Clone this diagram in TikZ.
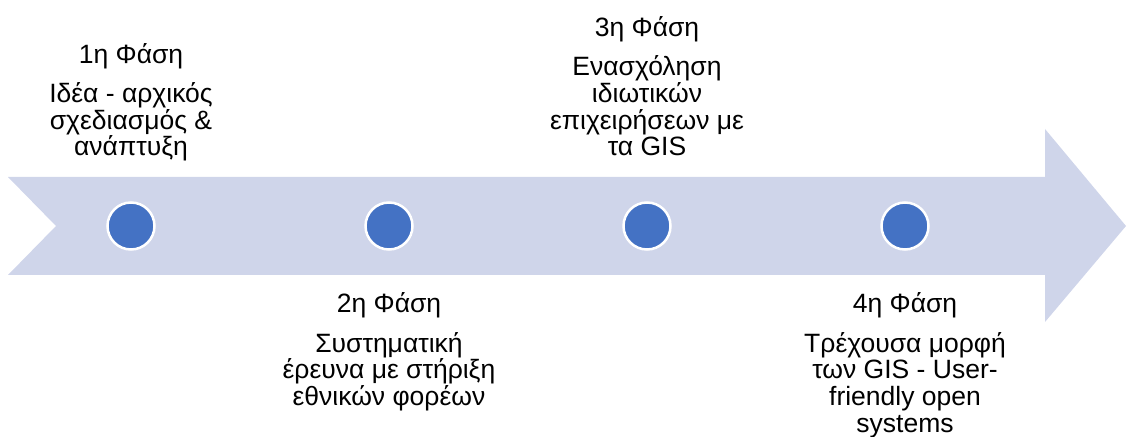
\documentclass[tikz,border=0pt]{standalone}
\usepackage{fontspec}
\setmainfont{Liberation Sans}
\definecolor{arrowfill}{HTML}{CFD5EA}
\definecolor{dotblue}{HTML}{4472C4}
\tikzset{
  phase/.style={circle, fill=dotblue, draw=white, line width=2.5pt, minimum size=47pt, inner sep=0pt},
  title/.style={anchor=base, inner sep=0pt, font=\fontsize{26.5}{26.7}\selectfont},
  body/.style={anchor=base, inner sep=0pt, align=center, font=\fontsize{26.5}{26.7}\selectfont}
}
\begin{document}
\begin{tikzpicture}[x=1pt,y=1pt]
\useasboundingbox (0,0) rectangle (1131,436);
\fill[arrowfill] (8,259) -- (1045,259) -- (1045,307) -- (1126,210) -- (1045,114) -- (1045,161) -- (8,161) -- (56,210) -- cycle;
\node[phase] (p1) at (131,210) {};
\node[phase] (p2) at (389,210) {};
\node[phase] (p3) at (647,210) {};
\node[phase] (p4) at (905,210) {};
% upper texts: last baseline at y=280
\node[title] (t1) at (131,372) {1η Φάση};
\node[body] (b1) at (131,280) {Ιδέα - αρχικός\\σχεδιασμός \&\\ανάπτυξη};
\node[title] (t3) at (647,399) {3η Φάση};
\node[body] (b3) at (647,280) {Ενασχόληση\\ιδιωτικών\\επιχειρήσεων με\\τα GIS};
% lower texts
\node[title] (t2) at (389,123) {2η Φάση};
\node[body] (b2) at (389,30.6) {Συστηματική\\έρευνα με στήριξη\\εθνικών φορέων};
\node[title] (t4) at (905,123) {4η Φάση};
\node[body] (b4) at (905,3.9) {Τρέχουσα μορφή\\των GIS - User-\\friendly open\\systems};
\end{tikzpicture}
\end{document}
